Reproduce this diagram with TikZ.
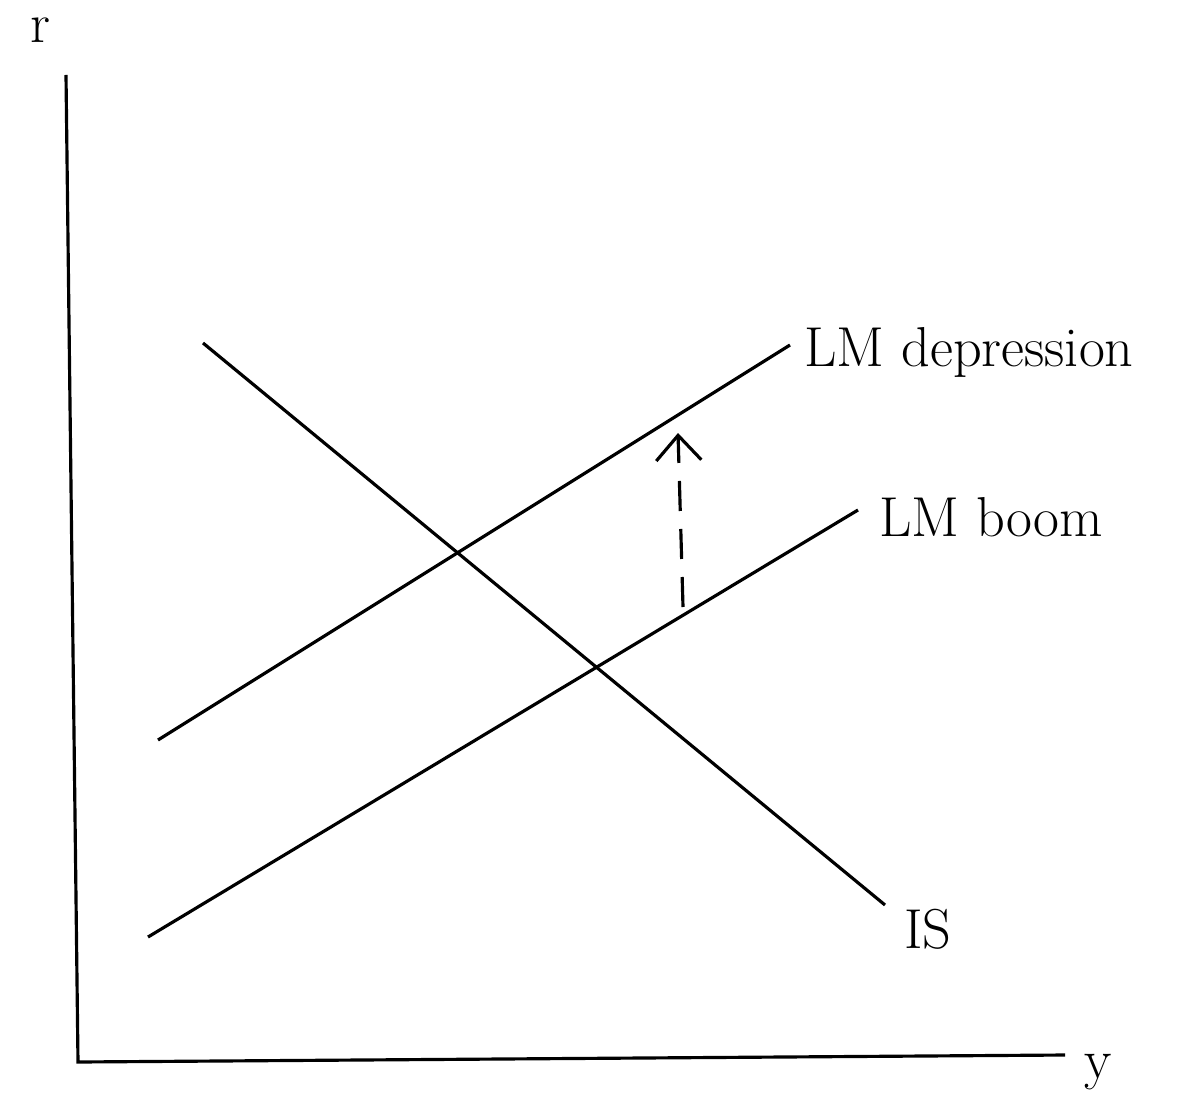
\documentclass[tikz,border=0pt]{standalone}
\usetikzlibrary{arrows.meta}
\tikzset{curve/.style={line width=0.9pt},
  lbl/.style={font=\fontsize{16}{19}\selectfont,inner sep=1pt}}
\begin{document}
\begin{tikzpicture}[x=0.01cm,y=-0.01cm]
\useasboundingbox (0,0) rectangle (1192,1110);
   \coordinate (top) at (66,75);
   \coordinate (O) at (78,1062);
   \coordinate (right) at (1065,1055);
   \node[lbl] at (40,30) (r) {r};
   \node[lbl] at (1098,1072) (y) {y};
    \draw[curve] (top) -- (O) -- (right);
    % IS
    \coordinate (is1) at (203,343);
    \coordinate (is2) at (885,905);
    \node[lbl,anchor=north west] at (900,905) (IS) {IS};
    \draw[curve] (is1) -- (is2);
    % LM curves
    \coordinate (lmd1) at (158,740);
    \coordinate (lmd2) at (790,345);
    \node[lbl,anchor=west] at (800,352) (LMd) {LM depression};
    \draw[curve] (lmd1) -- (lmd2);
    \coordinate (lmb1) at (148,937);
    \coordinate (lmb2) at (858,510);
    \node[lbl,anchor=west] at (875,517) (LMb) {LM boom};
    \draw[curve] (lmb1) -- (lmb2);
    % shift
    \coordinate (sh1) at (683,607);
    \coordinate (sh2) at (678,433);
    \draw[curve,dash pattern=on 3mm off 1.8mm,-{Straight Barb[length=2.5mm,width=4.5mm,sep=0pt]}] (sh1) -- (sh2);
    \end{tikzpicture}
\end{document}
